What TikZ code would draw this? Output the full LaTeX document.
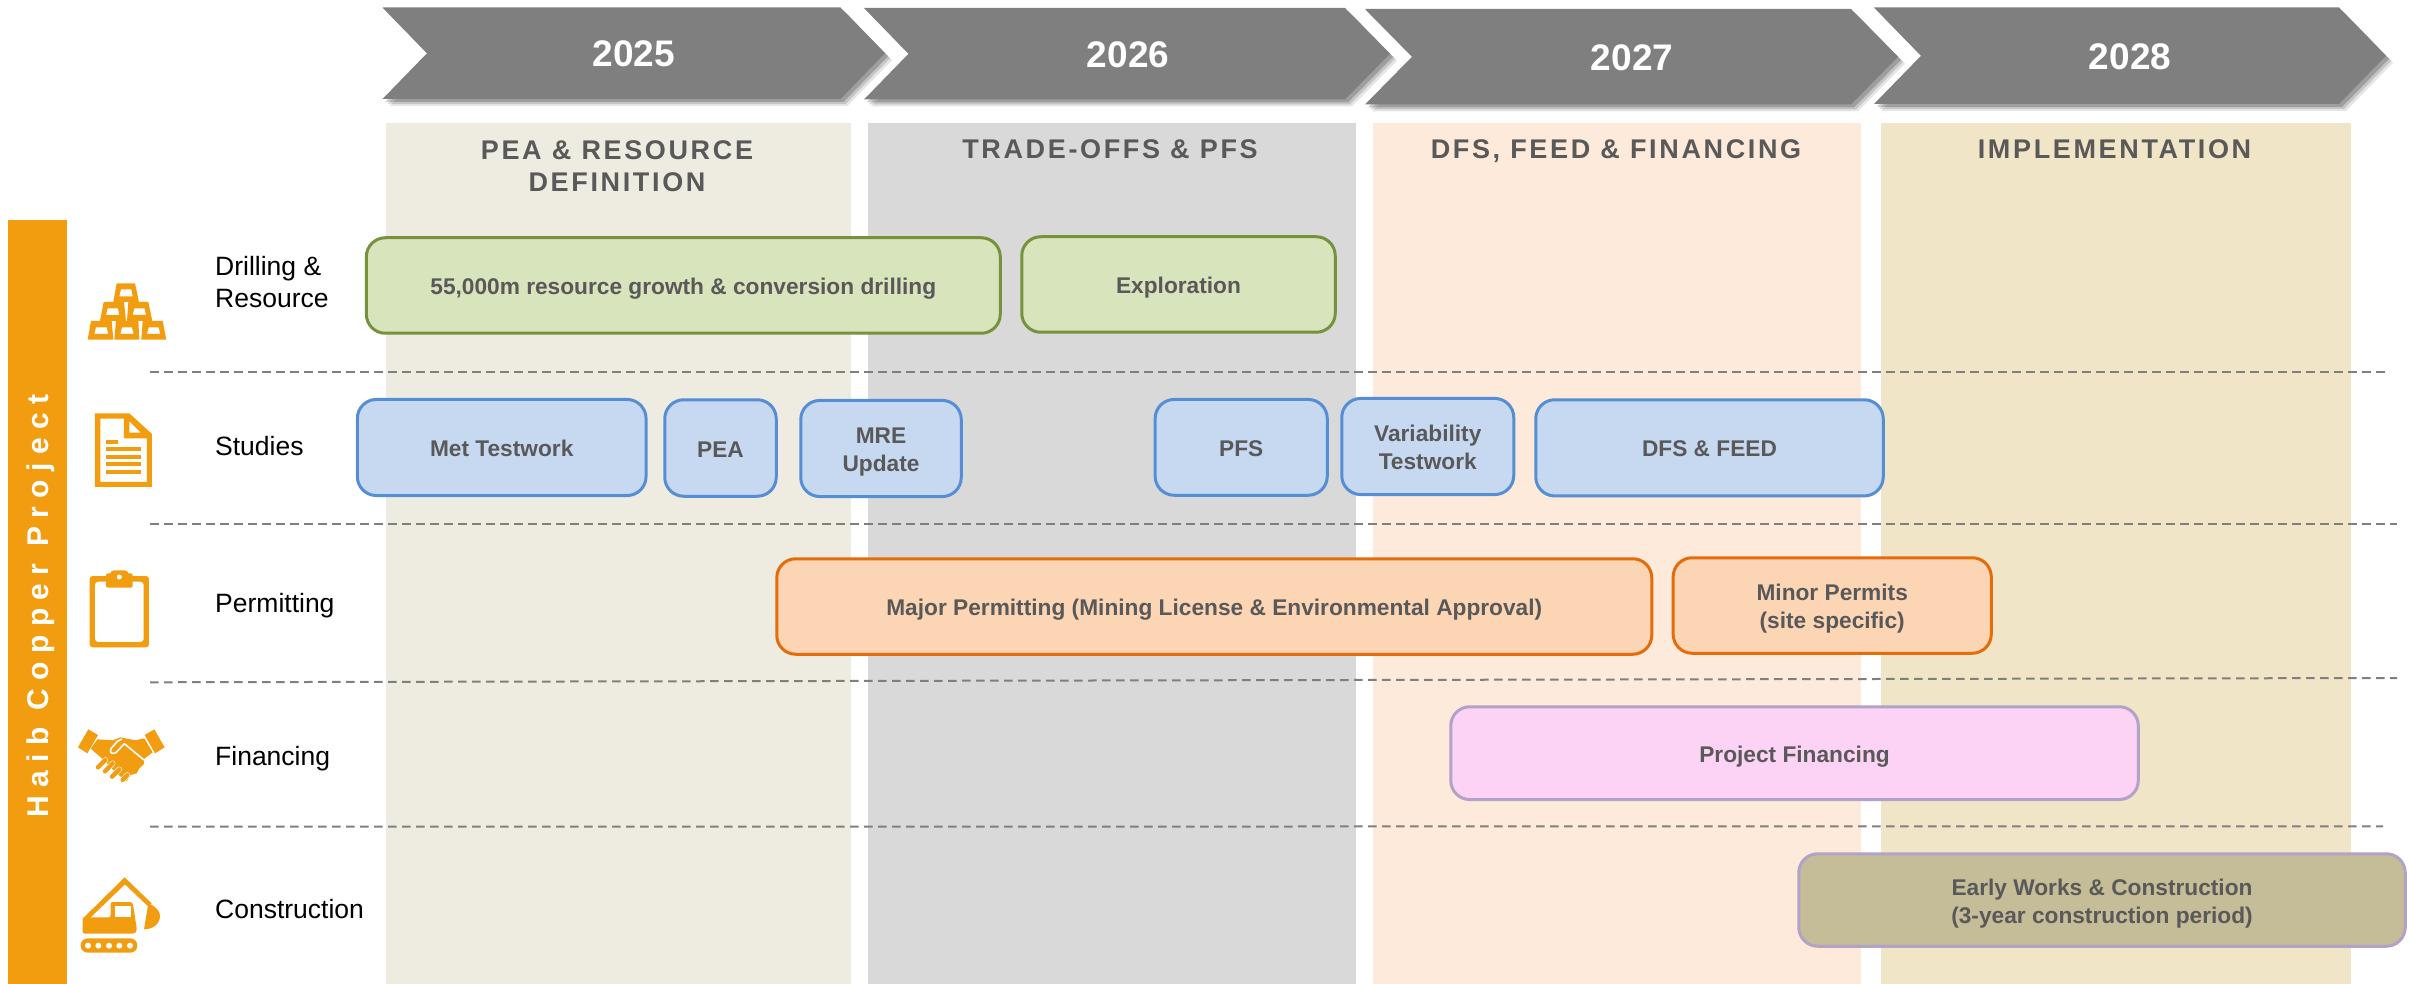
\documentclass[tikz,border=0pt]{standalone}
\usepackage{fontspec}
\setmainfont{Liberation Sans}
\newfontfamily\hdrfont[LetterSpace=9.8]{Liberation Sans}
\newfontfamily\sidefont[LetterSpace=28]{Liberation Sans}
\definecolor{amber}{HTML}{F29C0F}
\definecolor{chev}{HTML}{7F7F7F}
\definecolor{ink}{HTML}{595959}
\definecolor{colA}{HTML}{EEECE1}
\definecolor{colB}{HTML}{D9D9D9}
\definecolor{colC}{HTML}{FDEADA}
\definecolor{colD}{HTML}{F0E5C7}
\definecolor{lilac}{HTML}{B3A2C7}
\newcommand{\topstrut}{\rule{0pt}{24pt}}
\newcommand{\botstrut}{\rule[-6pt]{0pt}{6pt}}
\tikzset{
  x=1pt,y=-1pt,
  taskbox/.style={draw,line width=3pt,rounded corners=19pt,inner sep=0pt,align=center,text=ink,
    font=\fontsize{22.7}{28}\selectfont\bfseries},
  greenbox/.style={taskbox,fill={rgb,255:red,216;green,228;blue,188},draw={rgb,255:red,118;green,146;blue,60}},
  bluebox/.style={taskbox,fill={rgb,255:red,198;green,217;blue,241},draw={rgb,255:red,85;green,142;blue,213}},
  orangebox/.style={taskbox,fill={rgb,255:red,252;green,213;blue,181},draw={rgb,255:red,228;green,108;blue,10}},
  pinkbox/.style={taskbox,fill={rgb,255:red,252;green,210;blue,245},draw=lilac},
  tanbox/.style={taskbox,fill={rgb,255:red,196;green,189;blue,151},draw=lilac},
  header/.style={text=ink,align=center,inner sep=0pt,font=\fontsize{27}{32}\selectfont\hdrfont\bfseries},
  yearlabel/.style={text=white,inner sep=0pt,font=\fontsize{37}{40}\selectfont\bfseries},
  rowlabel/.style={text=black,inner sep=0pt,align=left,font=\fontsize{26.5}{31.6}\selectfont},
  rowline/.style={draw=chev,line width=2pt,dash pattern=on 8.5pt off 5.5pt},
  icon/.style={fill=amber,draw=none},
}
\newcommand{\taskat}[7]{% name, x0,y0,x1,y1, style, text
  \pgfmathsetmacro{\tw}{#4-#2-1.5}\pgfmathsetmacro{\th}{#5-#3-1.5}
  \pgfmathsetmacro{\tx}{(#2+#4)/2}\pgfmathsetmacro{\ty}{(#3+#5)/2}
  \node[#6,minimum width=\tw pt,minimum height=\th pt] (#1) at (\tx,\ty) {\topstrut #7\botstrut};}
\newcommand{\chevron}[7]{% name,left,notch,shoulder,tip,top,bottom
  \pgfmathsetmacro{\cm}{(#6+#7)/2}
  \foreach \d/\o in {7/.10,5/.14,3/.2}{
    \fill[black,opacity=\o] (#2+\d,#6+\d) -- (#4+\d,#6+\d) -- (#5+\d,\cm+\d) -- (#4+\d,#7+\d) -- (#2+\d,#7+\d) -- (#3+\d,\cm+\d) -- cycle;}
  \fill[chev] (#2,#6) -- (#4,#6) -- (#5,\cm) -- (#4,#7) -- (#2,#7) -- (#3,\cm) -- cycle;}
\begin{document}
\begin{tikzpicture}
\path[use as bounding box] (0,0) rectangle (2410,984);
% columns
\fill[colA] (386,123) rectangle (851,984);
\fill[colB] (868,123) rectangle (1356,984);
\fill[colC] (1373,123) rectangle (1861,984);
\fill[colD] (1881,123) rectangle (2351,984);
% chevrons
\chevron{a}{382.5}{427}{840.5}{885}{7.5}{99}
\chevron{b}{864}{908.5}{1345}{1390}{8}{99.5}
\chevron{c}{1365}{1412}{1851}{1898}{9}{104.5}
\chevron{d}{1874}{1921}{2339}{2386}{7.5}{104}
\node[yearlabel] (y25) at (634,54.2) {2025};
\node[yearlabel] (y26) at (1128,55.2) {2026};
\node[yearlabel] (y27) at (1632,58) {2027};
\node[yearlabel] (y28) at (2130,56.8) {2028};
% headers
\node[header] (h1) at (617,166) {PEA \& RESOURCE\\DEFINITION};
\node[header,anchor=base] (h2) at (1110,158.7) {TRADE-OFFS \& PFS};
\node[header,anchor=base] (h3) at (1616,158.7) {DFS, FEED \& FINANCING};
\node[header,anchor=base] (h4) at (2114.5,158.7) {IMPLEMENTATION};
% separators
\coordinate (s1a) at (150,371.7); \coordinate (s1b) at (2387,371.7);
\coordinate (s2a) at (150,524.3); \coordinate (s2b) at (2397,524.3);
\coordinate (s3a) at (150,682.3); \coordinate (s3b) at (2397,678);
\coordinate (s4a) at (150,826.7); \coordinate (s4b) at (2383,826.3);
\draw[rowline] (s1a) -- (s1b);
\draw[rowline] (s2a) -- (s2b);
\draw[rowline] (s3a) -- (s3b);
\draw[rowline] (s4a) -- (s4b);
% side bar
\fill[amber] (8,220) rectangle (67,984);
\node[rotate=90,anchor=base,text=white,inner sep=0pt,font=\fontsize{30}{31}\selectfont\sidefont\bfseries] (side) at (48.7,606) {Haib Copper Project};
% row labels
\node[rowlabel,anchor=west] (r1) at (215,281.9) {Drilling \&\\Resource};
\node[rowlabel,anchor=base west] (r2) at (215,455) {Studies};
\node[rowlabel,anchor=base west] (r3) at (215,612.7) {Permitting};
\node[rowlabel,anchor=base west] (r4) at (215,765) {Financing};
\node[rowlabel,anchor=base west] (r5) at (215,918) {Construction};
% task boxes
\taskat{t1}{365.6}{237}{1001}{334}{greenbox}{55,000m resource growth \& conversion drilling}
\taskat{t2}{1021}{236}{1336}{333}{greenbox}{Exploration}
\taskat{t3}{356.6}{398.7}{646.8}{496.3}{bluebox}{Met Testwork}
\taskat{t4}{664}{399}{777}{497}{bluebox}{PEA}
\taskat{t5}{800}{399.7}{962}{497.3}{bluebox}{MRE\\Update}
\taskat{t6}{1154.4}{398.7}{1328}{496}{bluebox}{PFS}
\taskat{t7}{1341}{397.7}{1514.5}{495.3}{bluebox}{Variability\\Testwork}
\taskat{t8}{1535}{399}{1884}{496.7}{bluebox}{DFS \& FEED}
\taskat{t9}{776}{558}{1652.5}{655}{orangebox}{Major Permitting (Mining License \& Environmental Approval)}
\taskat{t10}{1672.4}{557}{1992}{654}{orangebox}{Minor Permits\\(site specific)}
\taskat{t11}{1450}{706}{2139}{800.3}{pinkbox}{Project Financing}
\taskat{t12}{1798}{853}{2406}{947}{tanbox}{Early Works \& Construction\\(3-year construction period)}
% icons, in 3x crop coordinates
\begin{scope}[shift={(0,200)},x=0.33333pt,y=-0.33333pt]
  % gold bars
  \fill[icon,even odd rule]
    (263,419)--(273,363)--(335,363)--(340,419)--cycle (283,402)--(325,402)--(320,382)--(288,382)--cycle
    (343,419)--(348,363)--(415,363)--(418,419)--cycle (361,402)--(401,402)--(396,382)--(366,382)--cycle
    (424,419)--(428,363)--(488,363)--(499,419)--cycle (441,402)--(481,402)--(476,382)--(446,382)--cycle;
  \fill[icon,even odd rule]
    (300,363)--(311,306)--(372,306)--(378,363)--cycle (318,345)--(358,345)--(354,325)--(323,325)--cycle;
  \fill[icon,even odd rule]
    (381,363)--(385,306)--(445,306)--(457,363)--cycle (398,345)--(438,345)--(434,325)--(403,325)--cycle;
  \fill[icon,even odd rule]
    (340,306)--(350,250)--(405,250)--(417,306)--cycle (358,289)--(398,289)--(394,268)--(363,268)--cycle;
  % document
  \fill[icon,even odd rule]
    (285,640)--(388,640)--(456,702)--(456,861)--(285,861)--cycle
    (301,656)--(372,656)--(372,715)--(441,715)--(441,846)--(301,846)--cycle
    (388,664)--(422,698)--(388,698)--cycle;
  \fill[icon] (318,720) rectangle (354,732);
  \fill[icon] (318,741) rectangle (423,753);
  \fill[icon] (318,764) rectangle (423,776);
  \fill[icon] (318,786) rectangle (423,798);
  \fill[icon] (318,809) rectangle (423,821);
\end{scope}
\begin{scope}[shift={(0,560)},x=0.33333pt,y=-0.33333pt]
  % clipboard
  \fill[icon,even odd rule,rounded corners=3pt] (269,48) rectangle (447,262) (285,65) rectangle (431,246);
  \fill[icon,rounded corners=2pt] (318,40) rectangle (398,83);
  \fill[icon,rounded corners=4pt] (330,31) rectangle (386,60);
  \fill[white] (358,51) circle[radius=2.5pt];
  % handshake
  \fill[icon] (265,508)--(294,525)--(262,580)--(234,562)--cycle;
  \fill[icon] (463,508)--(494,562)--(465,580)--(434,525)--cycle;
  \fill[icon] (272,566)--(292,538)--(338,541)--(362,532)--(405,541)--(433,535)--(458,577)--(432,597)--(432,612)--(418,625)--(410,640)--(392,645)--(380,664)--(350,640)--(300,590)--cycle;
  \draw[white,line width=1.6pt,line join=round] (432,600)--(373,551)--(350,576) .. controls (340,586) and (326,578) .. (333,566) -- (352,544) -- (366,537);
  \foreach \ax/\ay/\bx/\by in {294/622/316/600,315/634/338/610,336/650/358/628,368/660/382/645}{
    \draw[white,line width=5.6pt,line cap=round] (\ax,\ay)--(\bx,\by);
    \draw[amber,line width=4.4pt,line cap=round] (\ax,\ay)--(\bx,\by);}
  % excavator
  \fill[icon] (248,1076)--(374,952)--(455,1030)--(443,1038)--(375,973)--(270,1074)--cycle;
  \fill[icon] (445,1030) .. controls (470,1040) and (480,1055) .. (480,1068) .. controls (480,1090) and (460,1108) .. (432,1108) -- cycle;
  \fill[icon,rounded corners=2pt] (248,1072)--(332,1072)--(332,1026)--(398,1026)--(411,1112)--(405,1121)--(248,1121)--cycle;
  \fill[white] (344,1039) rectangle (392,1072);
  \fill[icon,rounded corners=7pt] (242,1135) rectangle (412,1178);
  \foreach \cx in {264,295,327,358,390}{\fill[white] (\cx,1157) circle[radius=3pt];}
\end{scope}
\end{tikzpicture}
\end{document}
